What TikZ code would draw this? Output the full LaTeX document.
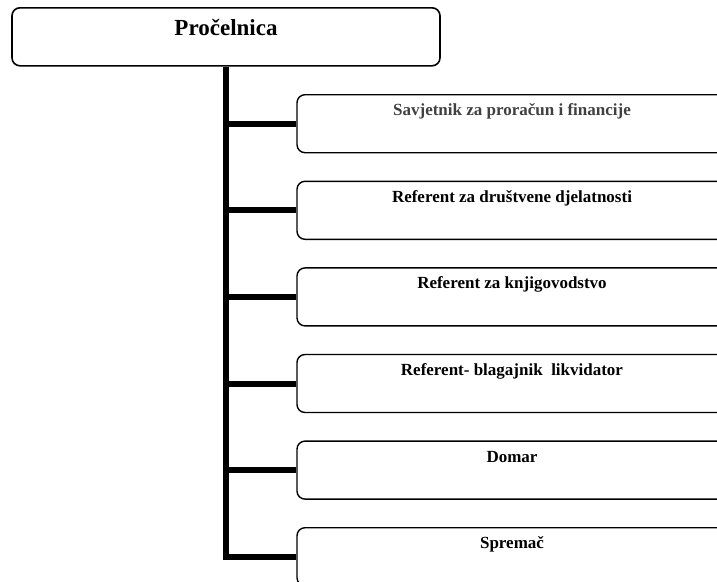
\documentclass[tikz,border=0pt]{standalone}
\usepackage{fontspec}
\setmainfont{Liberation Serif}
\begin{document}
\begin{tikzpicture}[x=1pt,y=-1pt,
  rootbox/.style={draw=black, line width=1.6pt, rounded corners=8pt, inner sep=0pt,
    minimum width=428pt, font=\bfseries\fontsize{23}{26}\selectfont,
    text height=28pt, text depth=30pt},
  childbox/.style={draw=black, line width=1.4pt, rounded corners=8pt, inner sep=0pt,
    minimum width=430pt, font=\bfseries\fontsize{17}{20}\selectfont,
    text height=21pt, text depth=37pt},
  trunk/.style={line width=6pt, black}]
\useasboundingbox (0,0) rectangle (717,581);
\clip (0,0) rectangle (717,581);
\node[rootbox, anchor=north] (root) at (226,7) {Pročelnica};
\node[childbox, anchor=north, text=black!75] (c1) at (512,94) {Savjetnik za proračun i financije};
\node[childbox, anchor=north] (c2) at (512,180.6) {Referent za društvene djelatnosti};
\node[childbox, anchor=north] (c3) at (512,267.2) {Referent za knjigovodstvo};
\node[childbox, anchor=north] (c4) at (512,353.8) {Referent- blagajnik\ \ likvidator};
\node[childbox, anchor=north] (c5) at (512,440.4) {Domar};
\node[childbox, anchor=north] (c6) at (512,527) {Spremač};
\draw[trunk] (root.south) |- (c6.west);
\foreach \c in {c1,c2,c3,c4,c5}{
  \draw[trunk] (root.south |- \c.west) -- (\c.west);
}
\end{tikzpicture}
\end{document}
